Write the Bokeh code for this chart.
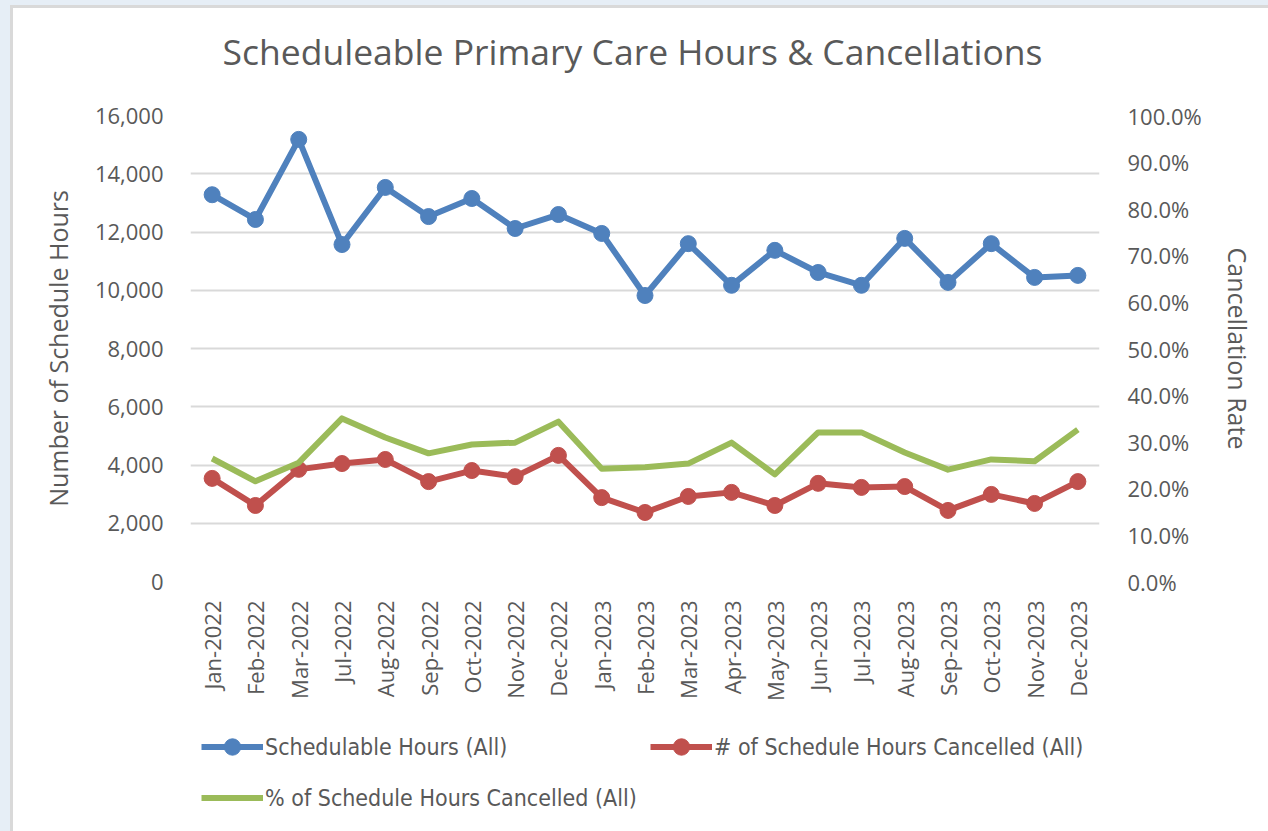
from bokeh.plotting import figure
from bokeh.layouts import column
from bokeh.models import (FactorRange, Range1d, LinearAxis, NumeralTickFormatter,
                          SingleIntervalTicker, Legend, LegendItem, Title)
from bokeh.embed import file_html
from bokeh.resources import INLINE

months = ["Jan-2022", "Feb-2022", "Mar-2022", "Jul-2022", "Aug-2022", "Sep-2022",
          "Oct-2022", "Nov-2022", "Dec-2022", "Jan-2023", "Feb-2023", "Mar-2023",
          "Apr-2023", "May-2023", "Jun-2023", "Jul-2023", "Aug-2023", "Sep-2023",
          "Oct-2023", "Nov-2023", "Dec-2023"]
schedulable_hours = [13280, 12430, 15180, 11570, 13530, 12530, 13150, 12120, 12600, 11950,
                     9820, 11600, 10170, 11370, 10610, 10170, 11780, 10270, 11600, 10440, 10510]
cancelled_hours = [3540, 2610, 3850, 4050, 4190, 3430, 3810, 3600, 4330, 2880,
                   2370, 2920, 3060, 2610, 3370, 3230, 3260, 2440, 2990, 2680, 3430]
cancel_rate = [0.264, 0.215, 0.255, 0.350, 0.309, 0.275, 0.294, 0.298, 0.343, 0.242,
               0.245, 0.253, 0.298, 0.230, 0.320, 0.320, 0.277, 0.240, 0.262, 0.258, 0.326]
series_names = ["Schedulable Hours (All)", "# of Schedule Hours Cancelled (All)",
                "% of Schedule Hours Cancelled (All)"]
chart_title = "Scheduleable  Primary Care Hours & Cancellations"

BLUE = "#4f81bd"
RED = "#c0504d"
GREEN = "#9bbb59"
TXT = "#595959"
FONT = "Open Sans"

p = figure(x_range=FactorRange(factors=months), y_range=Range1d(0, 16000), title=None,
           frame_width=909, frame_height=466, output_backend="svg", toolbar_location=None,
           min_border_left=190, min_border_right=169, min_border_top=115,
           min_border_bottom=119, background_fill_color="white",
           border_fill_color=None)
p.outline_line_color = None
p.extra_y_ranges = {"pct": Range1d(0, 1)}

# title (a thin spacer title next to the frame, then the real title above it)
p.add_layout(Title(text=" ", text_font_size="1px", standoff=38), "above")
p.add_layout(Title(text=chart_title, align="left", offset=32, standoff=0,
                   text_font=FONT, text_font_size="35.5px", text_font_style="normal",
                   text_color=TXT), "above")

# axes
for ax in p.xaxis:
    ax.axis_line_color = None
    ax.major_tick_line_color = None
    ax.minor_tick_line_color = None
    ax.major_tick_out = 0
    ax.major_label_orientation = 1.5708
    ax.major_label_text_font = FONT
    ax.major_label_text_font_size = "22px"
    ax.major_label_text_color = TXT
    ax.major_label_standoff = 19

yl = p.yaxis[0]
yl.ticker = SingleIntervalTicker(interval=2000)
yl.formatter = NumeralTickFormatter(format="0,0")
yl.axis_label = "Number of Schedule Hours"

yr = LinearAxis(y_range_name="pct", ticker=SingleIntervalTicker(interval=0.1),
                formatter=NumeralTickFormatter(format="0.0%"),
                axis_label="Cancellation Rate")
p.add_layout(yr, "right")

for ax, st, ast in ((yl, 23, 17), (yr, 24, 16)):
    ax.axis_line_color = None
    ax.major_tick_line_color = None
    ax.minor_tick_line_color = None
    ax.major_tick_out = 0
    ax.major_tick_in = 0
    ax.major_label_text_font = FONT
    ax.major_label_text_font_size = "22px"
    ax.major_label_text_color = TXT
    ax.major_label_standoff = st
    ax.axis_label_text_font = FONT
    ax.axis_label_text_font_size = "25px"
    ax.axis_label_text_font_style = "normal"
    ax.axis_label_text_color = TXT
    ax.axis_label_standoff = ast

p.xgrid.grid_line_color = None
p.ygrid.grid_line_color = "#d9d9d9"
p.ygrid.grid_line_width = 2

# series
p.line(months, schedulable_hours, line_color=BLUE, line_width=6, line_join="round")
p.scatter(months, schedulable_hours, size=16, fill_color=BLUE, line_color=BLUE)
p.line(months, cancelled_hours, line_color=RED, line_width=6, line_join="round")
p.scatter(months, cancelled_hours, size=16, fill_color=RED, line_color=RED)
p.line(months, cancel_rate, line_color=GREEN, line_width=6, line_join="round",
       y_range_name="pct")

# legend strip (separate figure so the legend is not clipped by the chart frame);
# its series sit outside its visible y-range, only the legend shows
lg = figure(width=1268, height=131, x_range=FactorRange(factors=months),
            y_range=Range1d(-2, -1),
            output_backend="svg", toolbar_location=None, min_border=0,
            x_axis_location=None, y_axis_location=None,
            background_fill_color=None, border_fill_color=None)
lg.outline_line_color = None
lg.grid.visible = False
lg.extra_y_ranges = {"pct": Range1d(-2, -1)}
lb = lg.line(months, schedulable_hours, line_color=BLUE, line_width=6)
lbs = lg.scatter(months, schedulable_hours, size=16, fill_color=BLUE, line_color=BLUE)
lr = lg.line(months, cancelled_hours, line_color=RED, line_width=6)
lrs = lg.scatter(months, cancelled_hours, size=16, fill_color=RED, line_color=RED)
lgr = lg.line(months, cancel_rate, line_color=GREEN, line_width=6, y_range_name="pct")

legend = Legend(items=[
    LegendItem(label=series_names[0], renderers=[lb, lbs]),
    LegendItem(label=series_names[1], renderers=[lr, lrs]),
    LegendItem(label=series_names[2], renderers=[lgr]),
], orientation="horizontal", ncols=2, location=(11, 16))
legend.border_line_color = None
legend.background_fill_alpha = 0
legend.label_text_font = "'Liberation Sans Narrow', 'DejaVu Sans Condensed', sans-serif"
legend.label_text_font_size = "23px"
legend.label_text_color = TXT
legend.glyph_width = 62
legend.glyph_height = 41
legend.label_standoff = 2
legend.label_width = 375
legend.label_height = 41
legend.spacing = 10
legend.padding = 4
legend.margin = 0
lg.add_layout(legend, "center")

layout = column(p, lg, spacing=0)
layout.styles = {"background-color": "white",
                 "box-shadow": "inset 10px 5px 0 0 #e6eef6, inset 13px 8px 0 0 #d9d9d9"}

open("out.html", "w").write(file_html(layout, INLINE))
